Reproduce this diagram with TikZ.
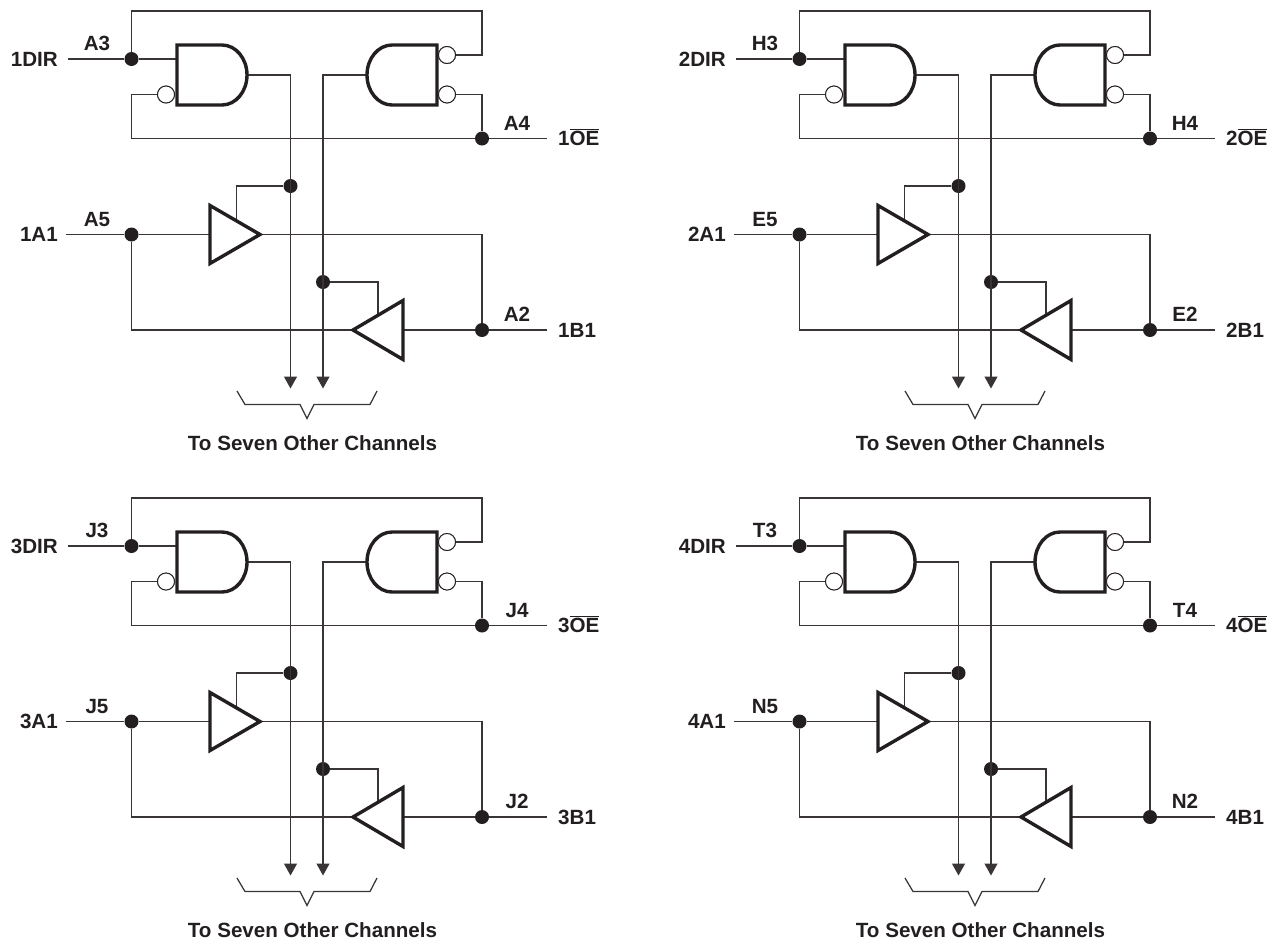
\documentclass[tikz,border=0pt]{standalone}
\usepackage{fontspec}
\setmainfont{Liberation Sans}
\usetikzlibrary{arrows.meta}
\definecolor{ink}{HTML}{231F20}
\tikzset{
  wire/.style={draw=ink!90,line width=1.25pt},
  gateline/.style={draw=ink,line width=3.4pt,line join=miter},
  junction/.style={circle,fill=ink,inner sep=0pt,minimum size=14pt},
  bubble/.style={circle,draw=ink,fill=white,line width=0.9pt,inner sep=0pt,minimum size=17pt},
  tag/.style={font=\bfseries\fontsize{20.6}{24}\selectfont,text=ink,inner sep=0pt}
}
\begin{document}
\begin{tikzpicture}[x=1pt,y=-1pt]
\useasboundingbox (0,0) rectangle (1273,940);
% Un canal par passage : decalage, numero, broches
\foreach \dx/\dy/\ch/\pdir/\poe/\pin/\pout in {0/0/1/A3/A4/A5/A2, 668/0/2/H3/H4/E5/E2,
                                               0/487/3/J3/J4/J5/J2, 668/487/4/T3/T4/N5/N2} {
\begin{scope}[shift={(\dx,\dy)}]
  % Points de connexion
  \node[junction] (dirdot\ch) at (131.5,59) {};
  \node[junction] (oedot\ch) at (482,138.5) {};
  \node[junction] (indot\ch) at (131.5,234.5) {};
  \node[junction] (outdot\ch) at (482,330) {};
  \node[junction] (endot\ch) at (290.5,186) {};
  \node[junction] (enbdot\ch) at (323,282) {};
  \coordinate (dirend\ch) at (68,59);
  \coordinate (oeend\ch) at (546.5,138.5);
  \coordinate (inend\ch) at (66,234.5);
  \coordinate (outend\ch) at (546.5,330);
  \coordinate (topleft\ch) at (131.5,11);
  \coordinate (topright\ch) at (482,11);
  \coordinate (andin\ch) at (177,59);
  \coordinate (andout\ch) at (247,75);
  \coordinate (nandout\ch) at (367,75);
  \coordinate (tipa\ch) at (290.5,388.5);
  \coordinate (tipb\ch) at (323,388.5);
  \coordinate (bufin\ch) at (210,234.5);
  \coordinate (bufout\ch) at (260,234.5);
  \coordinate (bufen\ch) at (236.3,220);
  \coordinate (invin\ch) at (403,330);
  \coordinate (invout\ch) at (353,330);
  \coordinate (inven\ch) at (378,315);
  \node[bubble] (andneg\ch) at (166,94.5) {};
  \node[bubble] (negtop\ch) at (447,55) {};
  \node[bubble] (negbot\ch) at (447,94.5) {};

  % Fils
  \draw[wire] (dirend\ch) -- (dirdot\ch) -- (andin\ch);
  \draw[wire] (dirdot\ch) -- (topleft\ch) -- (topright\ch) |- (negtop\ch.east);
  \draw[wire] (andneg\ch.west) -| (indot\ch |- oedot\ch) -- (oedot\ch) -- (oeend\ch);
  \draw[wire] (negbot\ch.east) -| (oedot\ch);
  \draw[wire,-{Triangle[length=12pt,width=13pt]}] (andout\ch) -| (tipa\ch);
  \draw[wire,-{Triangle[length=12pt,width=13pt]}] (nandout\ch) -| (tipb\ch);
  \draw[wire] (inend\ch) -- (indot\ch) -- (bufin\ch);
  \draw[wire] (bufout\ch) -| (outdot\ch);
  \draw[wire] (indot\ch) |- (invout\ch);
  \draw[wire] (invin\ch) -- (outdot\ch) -- (outend\ch);
  \draw[wire] (endot\ch) -| (bufen\ch);
  \draw[wire] (enbdot\ch) -| (inven\ch);

  % Portes
  \draw[gateline] (222,45) -- (177,45) -- (177,105) -- (222,105)
    arc[start angle=90,end angle=-90,x radius=25,y radius=30];
  \draw[gateline] (392,45) -- (437,45) -- (437,105) -- (392,105)
    arc[start angle=90,end angle=270,x radius=25,y radius=30];
  \draw[gateline] (210,205.5) -- (260,234.5) -- (210,263.5) -- cycle;
  \draw[gateline] (403,300.5) -- (353,330) -- (403,359.5) -- cycle;
  \node[bubble] at (andneg\ch) {};
  \node[bubble] at (negtop\ch) {};
  \node[bubble] at (negbot\ch) {};

  % Accolade
  \draw[wire] (237,391) -- (245,404.5) -- (300,404.5) -- (307,418.5) -- (314,404.5) -- (370,404.5) -- (377,391);

  % Textes
  \node[tag,anchor=base east] (dirname\ch) at (58,66) {\ch DIR};
  \node[tag,anchor=base] (dirpin\ch) at (97,50.5) {\pdir};
  \node[tag,anchor=base east] (inname\ch) at (58,241.5) {\ch A1};
  \node[tag,anchor=base] (inpin\ch) at (97,226.5) {\pin};
  \node[tag,anchor=base] (oepin\ch) at (517,130) {\poe};
  \node[tag,anchor=base west] (oename\ch) at (558,145) {\ch$\overline{\mbox{OE}}$};
  \node[tag,anchor=base] (outpin\ch) at (517,321.5) {\pout};
  \node[tag,anchor=base west] (outname\ch) at (558,337) {\ch B1};
  \node[tag,anchor=base] (note\ch) at (312.5,450) {To Seven Other Channels};
\end{scope}
}
\end{tikzpicture}
\end{document}
